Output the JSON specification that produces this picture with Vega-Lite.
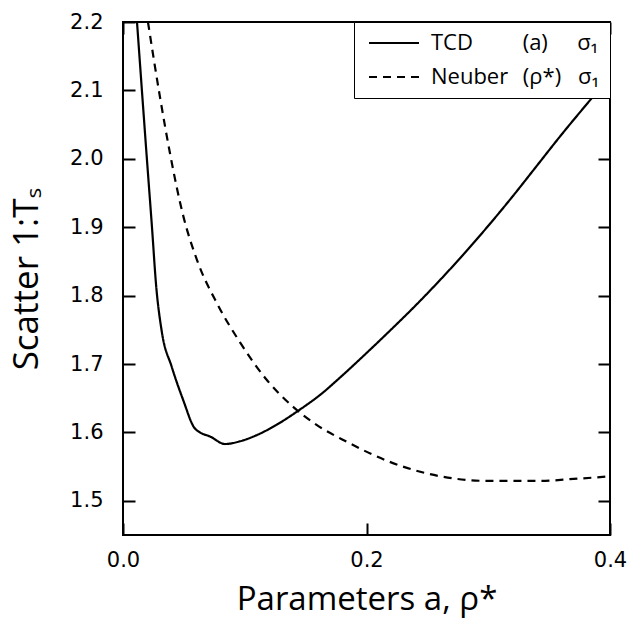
{
  "$schema": "https://vega.github.io/schema/vega-lite/v6.json",
  "width": 487,
  "height": 513,
  "autosize": {"type": "none"},
  "padding": {"left": 123, "top": 22, "right": 20, "bottom": 96},
  "background": "white",
  "config": {
    "view": {"stroke": "black", "strokeWidth": 2},
    "axis": {
      "domain": false,
      "ticks": false,
      "grid": true,
      "gridColor": "black",
      "gridOpacity": 1,
      "gridWidth": 2,
      "labelFlush": false,
      "labelOverlap": false,
      "labelFont": "DejaVu Sans",
      "labelFontSize": 21,
      "labelColor": "black",
      "titleFont": "Open Sans",
      "titleFontSize": 33,
      "titleFontWeight": "normal",
      "titleColor": "black"
    }
  },
  "data": {
    "values": [
      {"series": "TCD", "a": 0.0115, "v": 2.2},
      {"series": "TCD", "a": 0.0197, "v": 1.998},
      {"series": "TCD", "a": 0.0238, "v": 1.9},
      {"series": "TCD", "a": 0.0272, "v": 1.815},
      {"series": "TCD", "a": 0.0318, "v": 1.748},
      {"series": "TCD", "a": 0.04, "v": 1.696},
      {"series": "TCD", "a": 0.0495, "v": 1.647},
      {"series": "TCD", "a": 0.0585, "v": 1.607},
      {"series": "TCD", "a": 0.0632, "v": 1.6},
      {"series": "TCD", "a": 0.0715, "v": 1.594},
      {"series": "TCD", "a": 0.0838, "v": 1.583},
      {"series": "TCD", "a": 0.0961, "v": 1.587},
      {"series": "TCD", "a": 0.1098, "v": 1.596},
      {"series": "TCD", "a": 0.126, "v": 1.611},
      {"series": "TCD", "a": 0.145, "v": 1.633},
      {"series": "TCD", "a": 0.162, "v": 1.655},
      {"series": "TCD", "a": 0.18, "v": 1.683},
      {"series": "TCD", "a": 0.2, "v": 1.716},
      {"series": "TCD", "a": 0.22, "v": 1.75},
      {"series": "TCD", "a": 0.24, "v": 1.785},
      {"series": "TCD", "a": 0.26, "v": 1.822},
      {"series": "TCD", "a": 0.28, "v": 1.861},
      {"series": "TCD", "a": 0.3, "v": 1.902},
      {"series": "TCD", "a": 0.32, "v": 1.945},
      {"series": "TCD", "a": 0.34, "v": 1.99},
      {"series": "TCD", "a": 0.36, "v": 2.035},
      {"series": "TCD", "a": 0.38, "v": 2.078},
      {"series": "TCD", "a": 0.4, "v": 2.12},
      {"series": "Neuber", "a": 0.0205, "v": 2.2},
      {"series": "Neuber", "a": 0.0304, "v": 2.09},
      {"series": "Neuber", "a": 0.0386, "v": 2.008},
      {"series": "Neuber", "a": 0.049, "v": 1.92},
      {"series": "Neuber", "a": 0.0608, "v": 1.852},
      {"series": "Neuber", "a": 0.078, "v": 1.786},
      {"series": "Neuber", "a": 0.096, "v": 1.732},
      {"series": "Neuber", "a": 0.118, "v": 1.677},
      {"series": "Neuber", "a": 0.14, "v": 1.637},
      {"series": "Neuber", "a": 0.159, "v": 1.611},
      {"series": "Neuber", "a": 0.183, "v": 1.587},
      {"series": "Neuber", "a": 0.219, "v": 1.557},
      {"series": "Neuber", "a": 0.26, "v": 1.536},
      {"series": "Neuber", "a": 0.301, "v": 1.529},
      {"series": "Neuber", "a": 0.342, "v": 1.529},
      {"series": "Neuber", "a": 0.37, "v": 1.532},
      {"series": "Neuber", "a": 0.394, "v": 1.535},
      {"series": "Neuber", "a": 0.4, "v": 1.536}
    ]
  },
  "layer": [
    {
      "mark": {"type": "line", "clip": true, "color": "black", "strokeWidth": 2.2, "interpolate": "monotone"},
      "encoding": {
        "x": {
          "field": "a", "type": "quantitative",
          "scale": {"domain": [0, 0.4], "nice": false, "zero": false, "padding": 0},
          "axis": {"values": [0, 0.2, 0.4], "format": ".1f", "gridDash": [12, 489, 12, 300], "labelPadding": 14, "title": "Parameters a, ρ*", "titlePadding": 13}
        },
        "y": {
          "field": "v", "type": "quantitative",
          "scale": {"domain": [1.45, 2.2], "nice": false, "zero": false, "padding": 0},
          "axis": {"values": [1.5, 1.6, 1.7, 1.8, 1.9, 2.0, 2.1, 2.2], "format": ".1f", "gridDash": [12, 463, 12, 300], "labelPadding": 20, "title": "Scatter 1:Tₛ", "titleFontSize": 35, "titlePadding": 25}
        },
        "strokeDash": {
          "field": "series", "type": "nominal",
          "scale": {"domain": ["TCD", "Neuber"], "range": [[1, 0], [8, 6]]},
          "legend": {
            "title": null,
            "orient": "top-right",
            "offset": 0,
            "fillColor": "white",
            "strokeColor": "black",
            "padding": 10,
            "symbolType": "M-0.6,0H4.4",
            "symbolSize": 400,
            "symbolStrokeWidth": 2,
            "symbolStrokeColor": "black",
            "symbolFillColor": "transparent",
            "labelFont": "Open Sans",
            "labelFontSize": 22,
            "labelColor": "black",
            "labelOffset": 45,
            "rowPadding": 12,
            "labelLimit": 400,
            "labelExpr": "datum.label == 'TCD' ? 'TCD\u2003\u2003 (a)\u2003\u2009\u2009σ₁' : 'Neuber\u2002\u2009(ρ*)\u2002\u2009\u200aσ₁'"
          }
        }
      }
    },
    {
      "mark": {"type": "line", "opacity": 0},
      "encoding": {
        "x": {"field": "a", "type": "quantitative", "scale": {"domain": [0, 0.4], "nice": false, "zero": false, "padding": 0}, "axis": {"values": [0.1, 0.3], "gridDash": [7, 499, 7, 300], "labels": false, "title": null}},
        "y": {"field": "v", "type": "quantitative", "scale": {"domain": [1.45, 2.2], "nice": false, "zero": false, "padding": 0}, "axis": {"values": [1.55, 1.65, 1.75, 1.85, 1.95, 2.05, 2.15], "gridDash": [7, 473, 7, 300], "labels": false, "title": null}}
      }
    }
  ],
  "resolve": {"axis": {"x": "independent", "y": "independent"}}
}
